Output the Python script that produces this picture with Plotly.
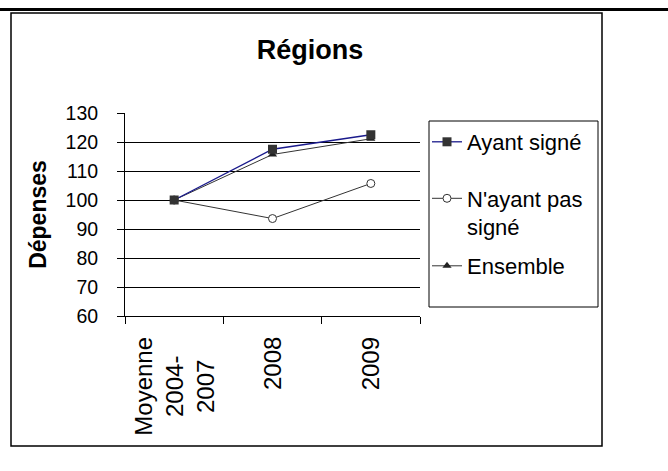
import plotly.graph_objects as go

# Category labels and series values (index, base 100 = average 2004-2007)
categories = ["Moyenne<br>2004-<br>2007", "2008", "2009"]
ayant_signe = [100, 117.5, 122.5]
nayant_pas_signe = [100, 93.6, 105.7]
ensemble = [100, 115.7, 121.1]
y_ticks = [60, 70, 80, 90, 100, 110, 120, 130]

FONT = "Liberation Sans, Arial, sans-serif"
W, H = 668, 471
L, R, T, B = 125, 248, 113, 155
PW, PH = W - L - R, H - T - B


def px(x):
    return (x - L) / PW


def py(y):
    return (H - B - y) / PH


fig = go.Figure()

# drawn back to front so the "Ayant signé" squares sit on top
fig.add_trace(go.Scatter(
    x=categories, y=nayant_pas_signe, name="N'ayant pas<br>signé", mode="lines+markers",
    line=dict(color="#333333", width=1),
    marker=dict(symbol="circle", size=8, color="white", line=dict(color="#333333", width=1)),
    legend="legend2",
))
fig.add_trace(go.Scatter(
    x=categories, y=ensemble, name="Ensemble", mode="lines+markers",
    line=dict(color="#333333", width=1),
    marker=dict(symbol="triangle-up", size=8, color="#222222"),
    legend="legend3",
))
fig.add_trace(go.Scatter(
    x=categories, y=ayant_signe, name="Ayant signé", mode="lines+markers",
    line=dict(color="#1a1a8c", width=1.3),
    marker=dict(symbol="square", size=9, color="#333333"),
    legend="legend",
))

leg_common = dict(
    xanchor="left", yanchor="middle", bgcolor="rgba(0,0,0,0)", borderwidth=0,
    font=dict(family=FONT, size=22, color="black"), valign="top",
)

shapes = [
    # heavy rule across the top of the page
    dict(type="line", xref="paper", yref="paper", x0=px(0), x1=px(W), y0=py(9.5), y1=py(9.5),
         line=dict(color="black", width=3)),
    # chart frame
    dict(type="rect", xref="paper", yref="paper", x0=px(11), x1=px(602), y0=py(13), y1=py(446),
         line=dict(color="black", width=1.5)),
    # legend frame
    dict(type="rect", xref="paper", yref="paper", x0=px(429), x1=px(598), y0=py(121), y1=py(307),
         line=dict(color="black", width=1)),
]

# category labels under the x axis (placed by category index), rotated,
# with the lines of a multi-line label centred on each other
x_labels = [
    dict(x=i, xref="x", y=py(335), yref="paper", text=c, textangle=-90,
         xanchor="center", yanchor="top", align="center", showarrow=False,
         font=dict(family=FONT, size=24, color="black"))
    for i, c in enumerate(categories)
]

fig.update_layout(
    width=W, height=H,
    margin=dict(l=L, r=R, t=T, b=B),
    paper_bgcolor="white", plot_bgcolor="white",
    font=dict(family=FONT, color="black"),
    title=dict(text="<b>Régions</b>", x=310 / W, xref="container", xanchor="center",
               y=1 - 50 / H, yref="container", yanchor="middle",
               font=dict(family=FONT, size=27, color="black")),
    showlegend=True,
    legend=dict(x=px(427), y=py(142), **leg_common),
    legend2=dict(x=px(427), y=py(213), **leg_common),
    legend3=dict(x=px(427), y=py(266), **leg_common),
    shapes=shapes,
    annotations=x_labels,
)

fig.update_yaxes(
    range=[60, 130], tickvals=y_ticks, ticktext=[str(v) for v in y_ticks],
    showgrid=True, gridcolor="black", gridwidth=1,
    showline=True, linecolor="black", linewidth=1,
    ticks="outside", ticklen=7, tickcolor="black", ticklabelstandoff=15,
    tickfont=dict(family=FONT, size=19.5, color="black"),
    zeroline=False,
    title=dict(text="<b>Dépenses</b>", standoff=12, font=dict(family=FONT, size=23, color="black")),
)
fig.update_xaxes(
    type="category", range=[-0.5, 2.5],
    showgrid=False, showline=True, linecolor="black", linewidth=1,
    ticks="outside", ticklen=7, tickcolor="black", tickson="boundaries",
    showticklabels=False,
)

fig.write_html("out.html")
